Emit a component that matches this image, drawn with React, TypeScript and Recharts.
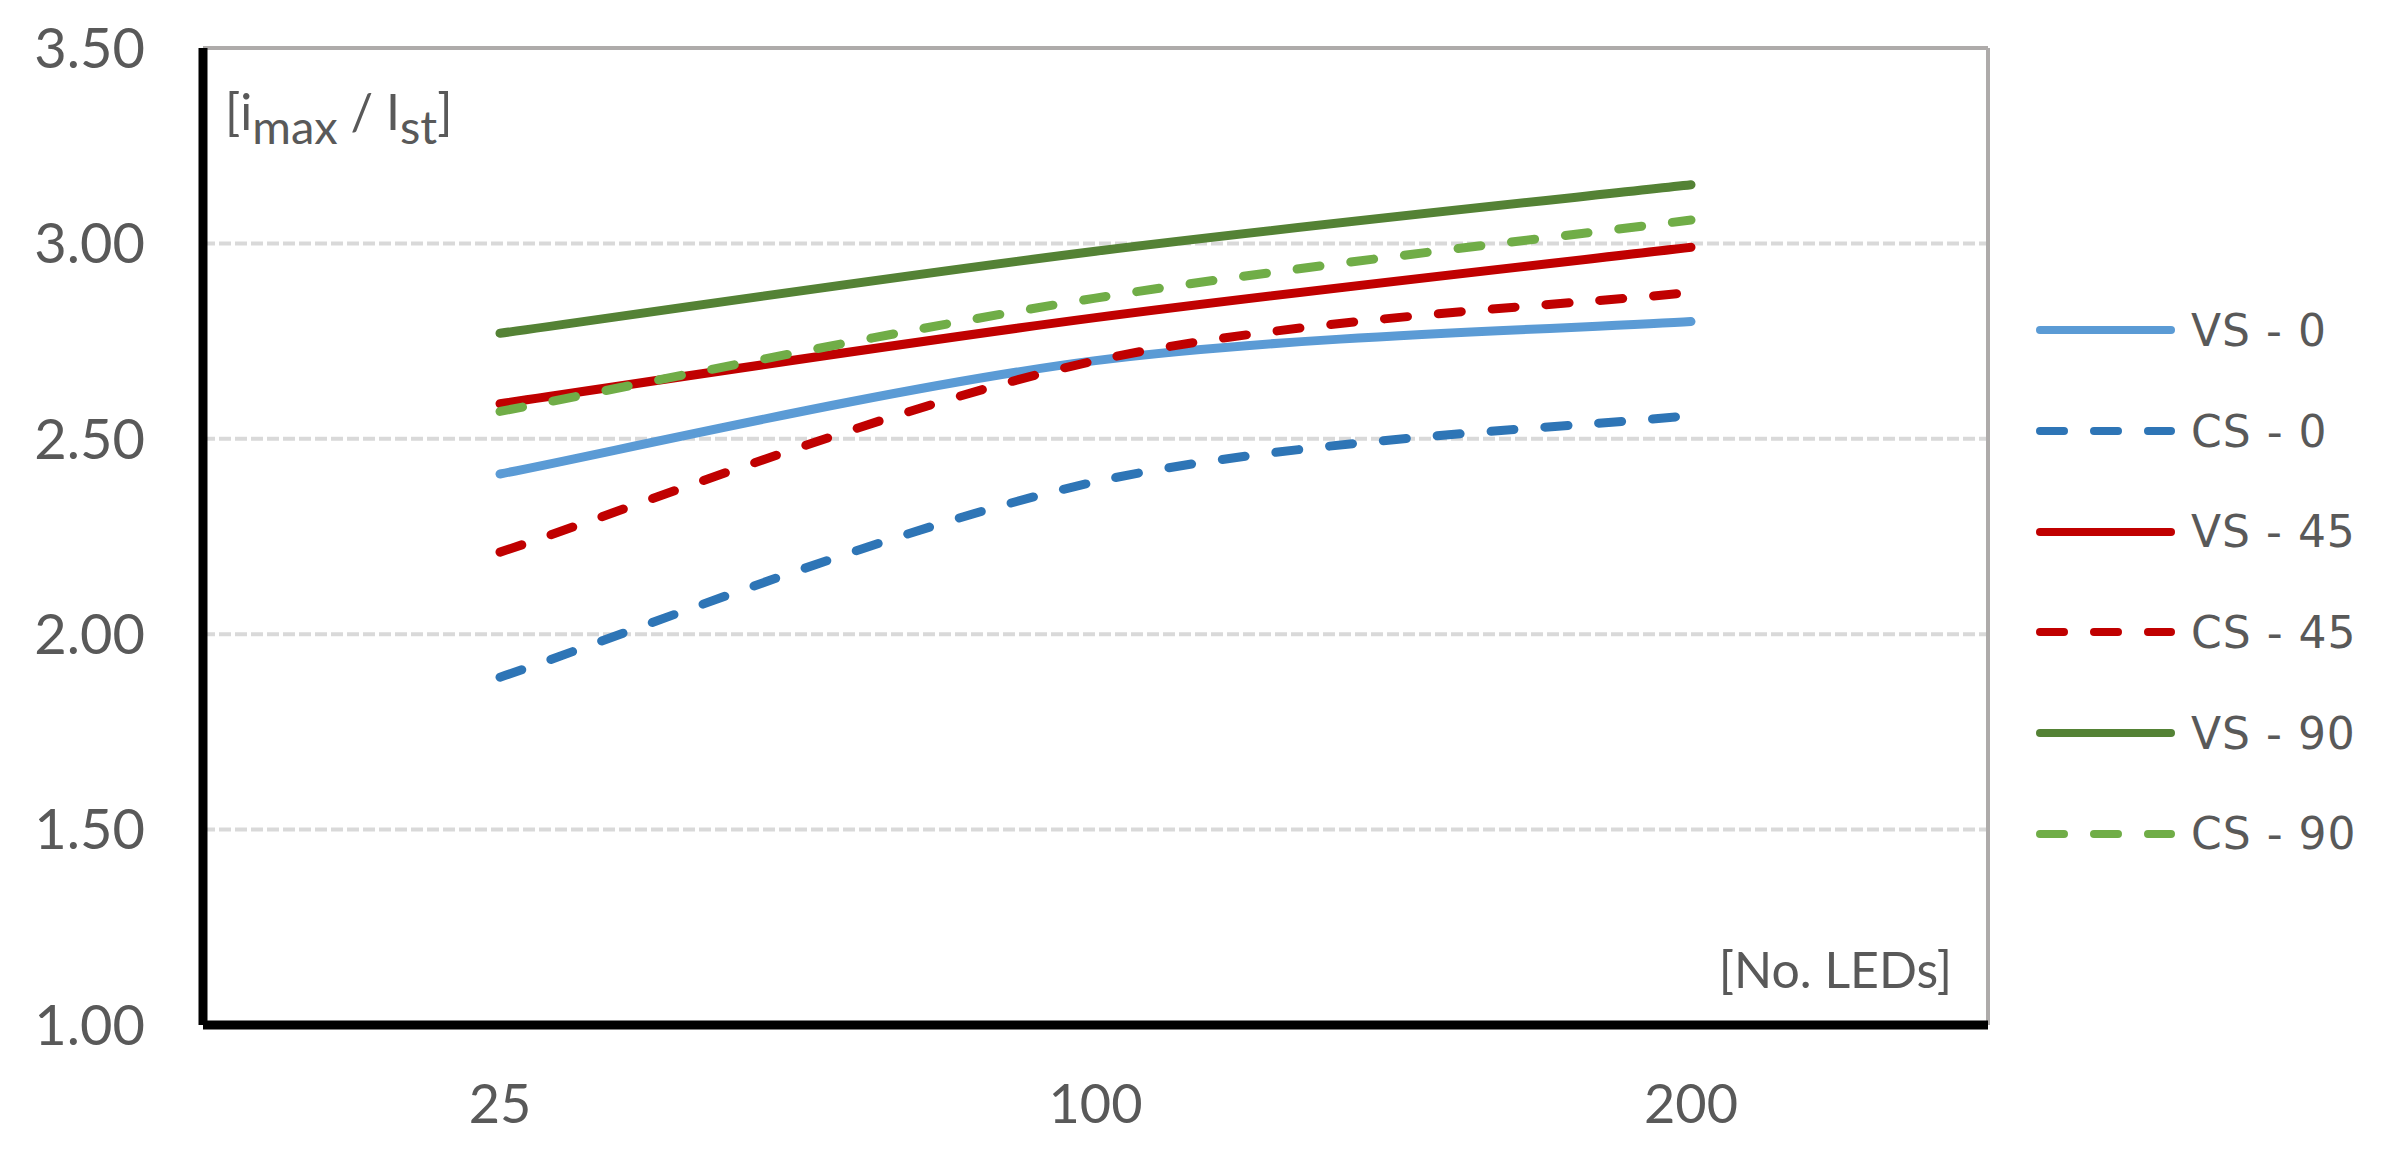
import { LineChart, Line, XAxis, YAxis, CartesianGrid, Legend } from "recharts";

const categories = ["25", "100", "200"];
const vs0 = [2.41, 2.7, 2.8];
const cs0 = [1.89, 2.39, 2.56];
const vs45 = [2.59, 2.81, 2.99];
const cs45 = [2.21, 2.7, 2.875];
const vs90 = [2.77, 2.98, 3.15];
const cs90 = [2.57, 2.86, 3.06];
const yTicks = [1, 1.5, 2, 2.5, 3, 3.5];

const series = [
  { key: "vs0", name: "VS - 0", color: "#5B9BD5", dashed: false, values: vs0 },
  { key: "cs0", name: "CS - 0", color: "#2E75B6", dashed: true, values: cs0 },
  { key: "vs45", name: "VS - 45", color: "#C00000", dashed: false, values: vs45 },
  { key: "cs45", name: "CS - 45", color: "#C00000", dashed: true, values: cs45 },
  { key: "vs90", name: "VS - 90", color: "#548235", dashed: false, values: vs90 },
  { key: "cs90", name: "CS - 90", color: "#70AD47", dashed: true, values: cs90 },
];

const data = categories.map((cat, i) => {
  const row: Record<string, string | number> = { cat };
  series.forEach((s) => (row[s.key] = s.values[i]));
  return row;
});

const TEXT = "#595959";
const BORDER = "#AEABAA";
const DASH = "23 31";

// excel-like smoothed line (bezier with 1/6 neighbour tangents)
const excelSmooth = (context: any) => {
  let pts: number[][] = [];
  return {
    areaStart() {},
    areaEnd() {},
    lineStart() {
      pts = [];
    },
    point(x: number, y: number) {
      pts.push([+x, +y]);
    },
    lineEnd() {
      if (!pts.length) return;
      context.moveTo(pts[0][0], pts[0][1]);
      for (let i = 0; i < pts.length - 1; i++) {
        const p0 = pts[Math.max(i - 1, 0)];
        const p1 = pts[i];
        const p2 = pts[i + 1];
        const p3 = pts[Math.min(i + 2, pts.length - 1)];
        context.bezierCurveTo(
          p1[0] + (p2[0] - p0[0]) / 6,
          p1[1] + (p2[1] - p0[1]) / 6,
          p2[0] - (p3[0] - p1[0]) / 6,
          p2[1] - (p3[1] - p1[1]) / 6,
          p2[0],
          p2[1]
        );
      }
    },
  };
};

function YUnit({ viewBox }: any) {
  const x = viewBox.x + viewBox.width + 22;
  const y = viewBox.y + 82;
  return (
    <text x={x} y={y} fill={TEXT} fontFamily="Lato" fontSize={50}>
      [i
      <tspan dy={14} fontSize={47}>max</tspan>
      <tspan dy={-14}> / I</tspan>
      <tspan dy={14} fontSize={47}>st</tspan>
      <tspan dy={-14}>]</tspan>
    </text>
  );
}

function XUnit({ viewBox }: any) {
  return (
    <text x={viewBox.x + viewBox.width - 36} y={viewBox.y - 37} fill={TEXT} fontFamily="Lato" fontSize={50} textAnchor="end">
      [No. LEDs]
    </text>
  );
}

function LegendBox() {
  return (
    <div>
      {series.map((s) => (
        <div key={s.key} style={{ height: 100.7, display: "flex", alignItems: "center" }}>
          <svg width={139} height={20}>
            <line x1={4} y1={10} x2={135} y2={10} stroke={s.color} strokeWidth={8} strokeLinecap="round" strokeDasharray={s.dashed ? "24 30" : undefined} />
          </svg>
          <span style={{ marginLeft: 16, fontFamily: "DejaVu Sans", fontSize: 44, letterSpacing: 1, color: TEXT, whiteSpace: "nowrap" }}>{s.name}</span>
        </div>
      ))}
    </div>
  );
}

export default function App() {
  return (
    <div style={{ background: "#fff" }}>
      <style>{`body{margin:0}`}</style>
      <LineChart width={2386} height={1164} data={data} margin={{ top: 48, right: 398, left: 0, bottom: 0 }}>
        <CartesianGrid vertical={false} stroke="#D9D9D9" strokeWidth={4} strokeDasharray="12 4" />
        <CartesianGrid
          vertical={false}
          stroke={BORDER}
          strokeWidth={4}
          horizontalCoordinatesGenerator={({ offset }: any) => [offset.top]}
        />
        <CartesianGrid
          horizontal={false}
          stroke={BORDER}
          strokeWidth={4}
          verticalCoordinatesGenerator={({ offset }: any) => [offset.left + offset.width]}
        />
        <XAxis
          dataKey="cat"
          height={139}
          padding={{ left: 297, right: 297 }}
          axisLine={{ stroke: "#000", strokeWidth: 9 }}
          tickLine={false}
          tickSize={0}
          tickMargin={60}
          tick={{ fill: TEXT, fontSize: 54, fontFamily: "Lato" }}
          label={{ content: XUnit }}
        />
        <YAxis
          domain={[1, 3.5]}
          ticks={yTicks}
          width={203}
          axisLine={{ stroke: "#000", strokeWidth: 9 }}
          tickLine={false}
          tickSize={0}
          tickMargin={58}
          tickFormatter={(v) => Number(v).toFixed(2)}
          tick={{ fill: TEXT, fontSize: 56, fontFamily: "Lato" }}
          label={{ content: YUnit }}
        />
        {series.map((s) => (
          <Line
            key={s.key}
            dataKey={s.key}
            name={s.name}
            type={excelSmooth as any}
            stroke={s.color}
            strokeWidth={9}
            strokeLinecap="round"
            strokeDasharray={s.dashed ? DASH : undefined}
            dot={false}
            activeDot={false}
            isAnimationActive={false}
          />
        ))}
        <Legend layout="vertical" align="center" verticalAlign="middle" wrapperStyle={{ left: 2036, top: 280, width: 350 }} content={LegendBox} />
      </LineChart>
    </div>
  );
}
